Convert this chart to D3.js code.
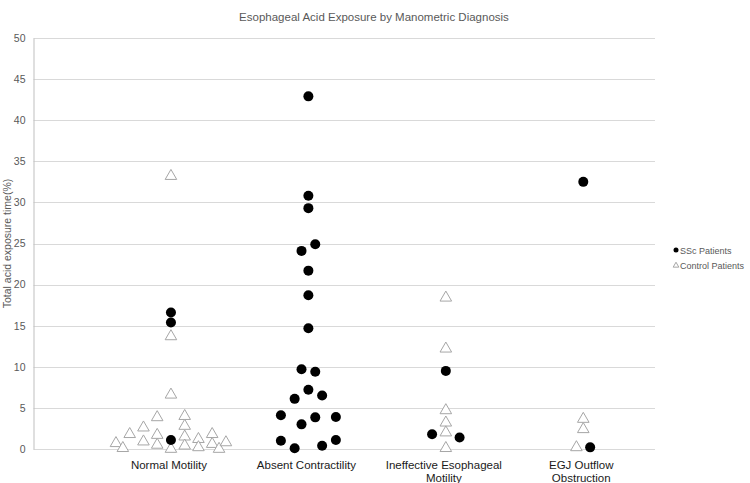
<!DOCTYPE html>
<html lang="en">
<head>
    <meta charset="UTF-8">
    <title>Esophageal Acid Exposure</title>
    <script src="https://cdnjs.cloudflare.com/ajax/libs/d3/7.8.5/d3.min.js"></script>
    <style>
        body { margin: 0; background: #fff; }
        text { font-family: "Liberation Sans", Arial, sans-serif; }
    </style>
</head>
<body>

<div id="chart"></div>

<script>
    var width = 750;
    var height = 483;

    // categories sit at x = 1..4, points jittered around them
    var categories = [["Normal Motility"], ["Absent Contractility"], ["Ineffective Esophageal", "Motility"], ["EGJ Outflow", "Obstruction"]];
    var yTicks = [0, 5, 10, 15, 20, 25, 30, 35, 40, 45, 50];

    var sscX = [1, 1, 1,
        2, 2, 2, 2.05, 1.95, 2, 2, 2, 1.95, 2.05, 2, 1.9, 2.1, 1.8, 1.95, 2.05, 2.2, 1.8, 1.9, 2.1, 2.2,
        3, 2.9, 3.1,
        4, 4.05];
    var sscY = [16.6, 15.4, 1.1,
        42.9, 30.8, 29.3, 24.9, 24.1, 21.7, 18.7, 14.7, 9.7, 9.4, 7.2, 6.1, 6.5, 4.1, 3.0, 3.85, 3.9, 1.0, 0.1, 0.4, 1.1,
        9.5, 1.8, 1.4,
        32.5, 0.2];

    var ctrlX = [1, 1, 1, 0.6, 0.65, 0.7, 0.8, 0.8, 0.9, 0.9, 0.9, 1, 1.1, 1.1, 1.1, 1.1, 1.2, 1.2, 1.3, 1.3, 1.35, 1.4,
        3, 3, 3, 3, 3, 3,
        4, 4, 3.95];
    var ctrlY = [33.2, 13.7, 6.6, 0.7, 0.1, 1.8, 2.6, 0.9, 3.85, 1.7, 0.5, 0, 4.0, 2.8, 1.5, 0.4, 1.2, 0.2, 1.8, 0.6, 0, 0.8,
        18.4, 12.2, 4.7, 3.2, 2.0, 0.1,
        3.65, 2.4, 0.2];

    var seriesNames = ["SSc Patients", "Control Patients"];

    var svg = d3.select("#chart")
        .append("svg")
        .attr("width", width)
        .attr("height", height);

    svg.append("rect")
        .attr("width", width)
        .attr("height", height)
        .attr("fill", "#ffffff");

    var x = d3.scaleLinear().domain([0, 4.5]).range([33.5, 652]);
    var y = d3.scaleLinear().domain([0, 50]).range([449, 38]);

    // title
    svg.append("text")
        .attr("x", 374)
        .attr("y", 21)
        .attr("text-anchor", "middle")
        .attr("font-size", "11.5px")
        .attr("fill", "#595959")
        .text("Esophageal Acid Exposure by Manometric Diagnosis");

    // gridlines
    svg.append("g")
        .selectAll("line")
        .data(yTicks)
        .enter()
        .append("line")
        .attr("x1", 33.5)
        .attr("x2", 655)
        .attr("y1", function(d) { return Math.round(y(d)) + 0.5; })
        .attr("y2", function(d) { return Math.round(y(d)) + 0.5; })
        .attr("stroke", "#d9d9d9")
        .attr("stroke-width", 1);

    // y axis
    var yAxis = d3.axisLeft(y).tickValues(yTicks).tickSize(0).tickPadding(8);
    var gy = svg.append("g")
        .attr("transform", "translate(33.5,0)")
        .call(yAxis);
    gy.select(".domain").attr("stroke", "#bfbfbf");
    gy.selectAll("text")
        .attr("font-size", "10.5px")
        .attr("fill", "#595959")
        .style("font-family", "'Liberation Sans', Arial, sans-serif");

    svg.append("text")
        .attr("transform", "translate(11," + (y(25)) + ") rotate(-90)")
        .attr("text-anchor", "middle")
        .attr("font-size", "10.5px")
        .attr("fill", "#595959")
        .text("Total acid exposure time(%)");

    // category labels
    var cat = svg.append("g")
        .selectAll("text")
        .data(categories)
        .enter()
        .append("text")
        .attr("x", function(d, i) { return x(i + 1) - 2; })
        .attr("y", 469)
        .attr("text-anchor", "middle")
        .attr("font-size", "11.5px")
        .attr("fill", "#1a1a1a");
    cat.selectAll("tspan")
        .data(function(d) { return d; })
        .enter()
        .append("tspan")
        .attr("x", function() { return this.parentNode.getAttribute("x"); })
        .attr("dy", function(d, i) { return i === 0 ? 0 : 12.5; })
        .text(function(d) { return d; });

    var tri = d3.symbol().type(d3.symbolTriangle).size(58);

    // control points
    svg.append("g")
        .selectAll("path")
        .data(ctrlY)
        .enter()
        .append("path")
        .attr("d", tri)
        .attr("transform", function(d, i) { return "translate(" + x(ctrlX[i]) + "," + y(d) + ")"; })
        .attr("fill", "#ffffff")
        .attr("stroke", "#a6a6a6")
        .attr("stroke-width", 1);

    // SSc points
    svg.append("g")
        .selectAll("circle")
        .data(sscY)
        .enter()
        .append("circle")
        .attr("cx", function(d, i) { return x(sscX[i]); })
        .attr("cy", function(d) { return y(d); })
        .attr("r", 5)
        .attr("fill", "#000000");

    // legend
    var legend = svg.append("g").attr("transform", "translate(676,0)");
    legend.append("circle")
        .attr("cx", 0)
        .attr("cy", 250)
        .attr("r", 2.5)
        .attr("fill", "#000");
    legend.append("path")
        .attr("d", d3.symbol().type(d3.symbolTriangle).size(14))
        .attr("transform", "translate(0,265.5)")
        .attr("fill", "#fff")
        .attr("stroke", "#a6a6a6");
    legend.selectAll("text.leg")
        .data(seriesNames)
        .enter()
        .append("text")
        .attr("class", "leg")
        .attr("x", 4)
        .attr("y", function(d, i) { return 253.5 + i * 15.5; })
        .attr("font-size", "9px")
        .attr("fill", "#595959")
        .text(function(d) { return d; });
</script>

</body>
</html>
